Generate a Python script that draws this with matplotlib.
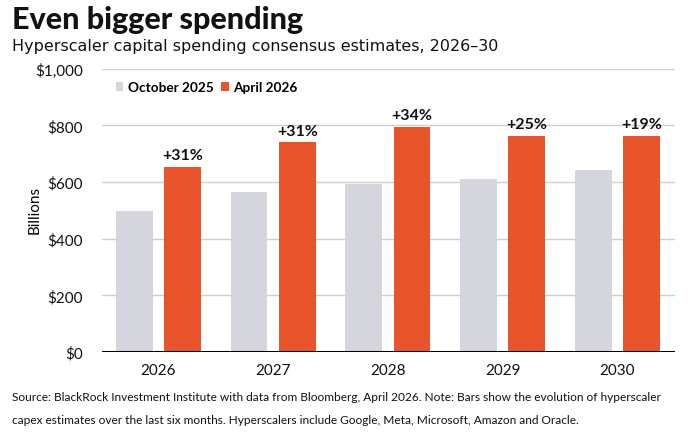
import numpy as np
import matplotlib
matplotlib.use('Agg')
import matplotlib.pyplot as plt

years = ['2026', '2027', '2028', '2029', '2030']
oct_2025 = [497, 565, 594, 611, 641]
apr_2026 = [655, 741, 795, 764, 764]
pct_labels = ['+31%', '+31%', '+34%', '+25%', '+19%']
y_ticks = [0, 200, 400, 600, 800, 1000]
y_ticklabels = ['$0', '$200', '$400', '$600', '$800', '$1,000']

GRAY = '#d5d5dd'
ORANGE = '#e8552c'
FONT = ['Lato', 'DejaVu Sans']

plt.rcParams['font.family'] = FONT

fig = plt.figure(figsize=(6.9, 4.35), dpi=100)
ax = fig.add_axes([0.148, 0.1885, 0.830, 0.651])

x = np.arange(len(years))
w = 0.32
ax.bar(x - 0.21, oct_2025, width=w, color=GRAY, label='October 2025', zorder=2)
ax.bar(x + 0.21, apr_2026, width=w, color=ORANGE, label='April 2026', zorder=2)

for xi, v, t in zip(x, apr_2026, pct_labels):
    ax.text(xi + 0.21, v + 16, t, ha='center', va='bottom', fontsize=11.5,
            fontweight='bold', color='#111111')

ax.set_xlim(-0.49, 4.5)
ax.set_ylim(0, 1000)
ax.set_yticks(y_ticks)
ax.set_yticklabels(y_ticklabels, fontsize=11)
ax.set_xticks(x)
ax.set_xticklabels(years, fontsize=11)
ax.tick_params(axis='both', length=0, colors='#111111')
ax.tick_params(axis='y', pad=14)
ax.tick_params(axis='x', pad=8)
ax.grid(axis='y', color='#cfcfcf', linewidth=1, zorder=0)
for s in ax.spines.values():
    s.set_visible(False)
ax.axhline(0, color='black', linewidth=2.2, zorder=3)
ax.set_ylabel('Billions', fontsize=11)
ax.yaxis.set_label_coords(-0.105, 0.505)

leg = ax.legend(loc='upper left', bbox_to_anchor=(0.01, 0.985), ncol=2, frameon=False,
                handlelength=0.55, handleheight=0.55, handletextpad=0.3,
                columnspacing=0.6, borderaxespad=0.2,
                prop={'family': FONT, 'weight': 'bold', 'size': 9.8})

fig.text(0.017, 0.955, 'Even bigger spending', fontsize=22, fontweight='black',
         va='center', ha='left', color='#111111')
fig.text(0.017, 0.892, 'Hyperscaler capital spending consensus estimates, 2026\u201330',
         fontsize=11.5, va='center', ha='left', color='#111111', family='DejaVu Sans')
fig.text(0.017, 0.087,
         'Source: BlackRock Investment Institute with data from Bloomberg, April 2026. Note: Bars show the evolution of hyperscaler',
         fontsize=8.6, va='center', ha='left', color='#111111')
fig.text(0.017, 0.033,
         'capex estimates over the last six months. Hyperscalers include Google, Meta, Microsoft, Amazon and Oracle.',
         fontsize=8.6, va='center', ha='left', color='#111111')

fig.savefig('out.png', dpi=100)
